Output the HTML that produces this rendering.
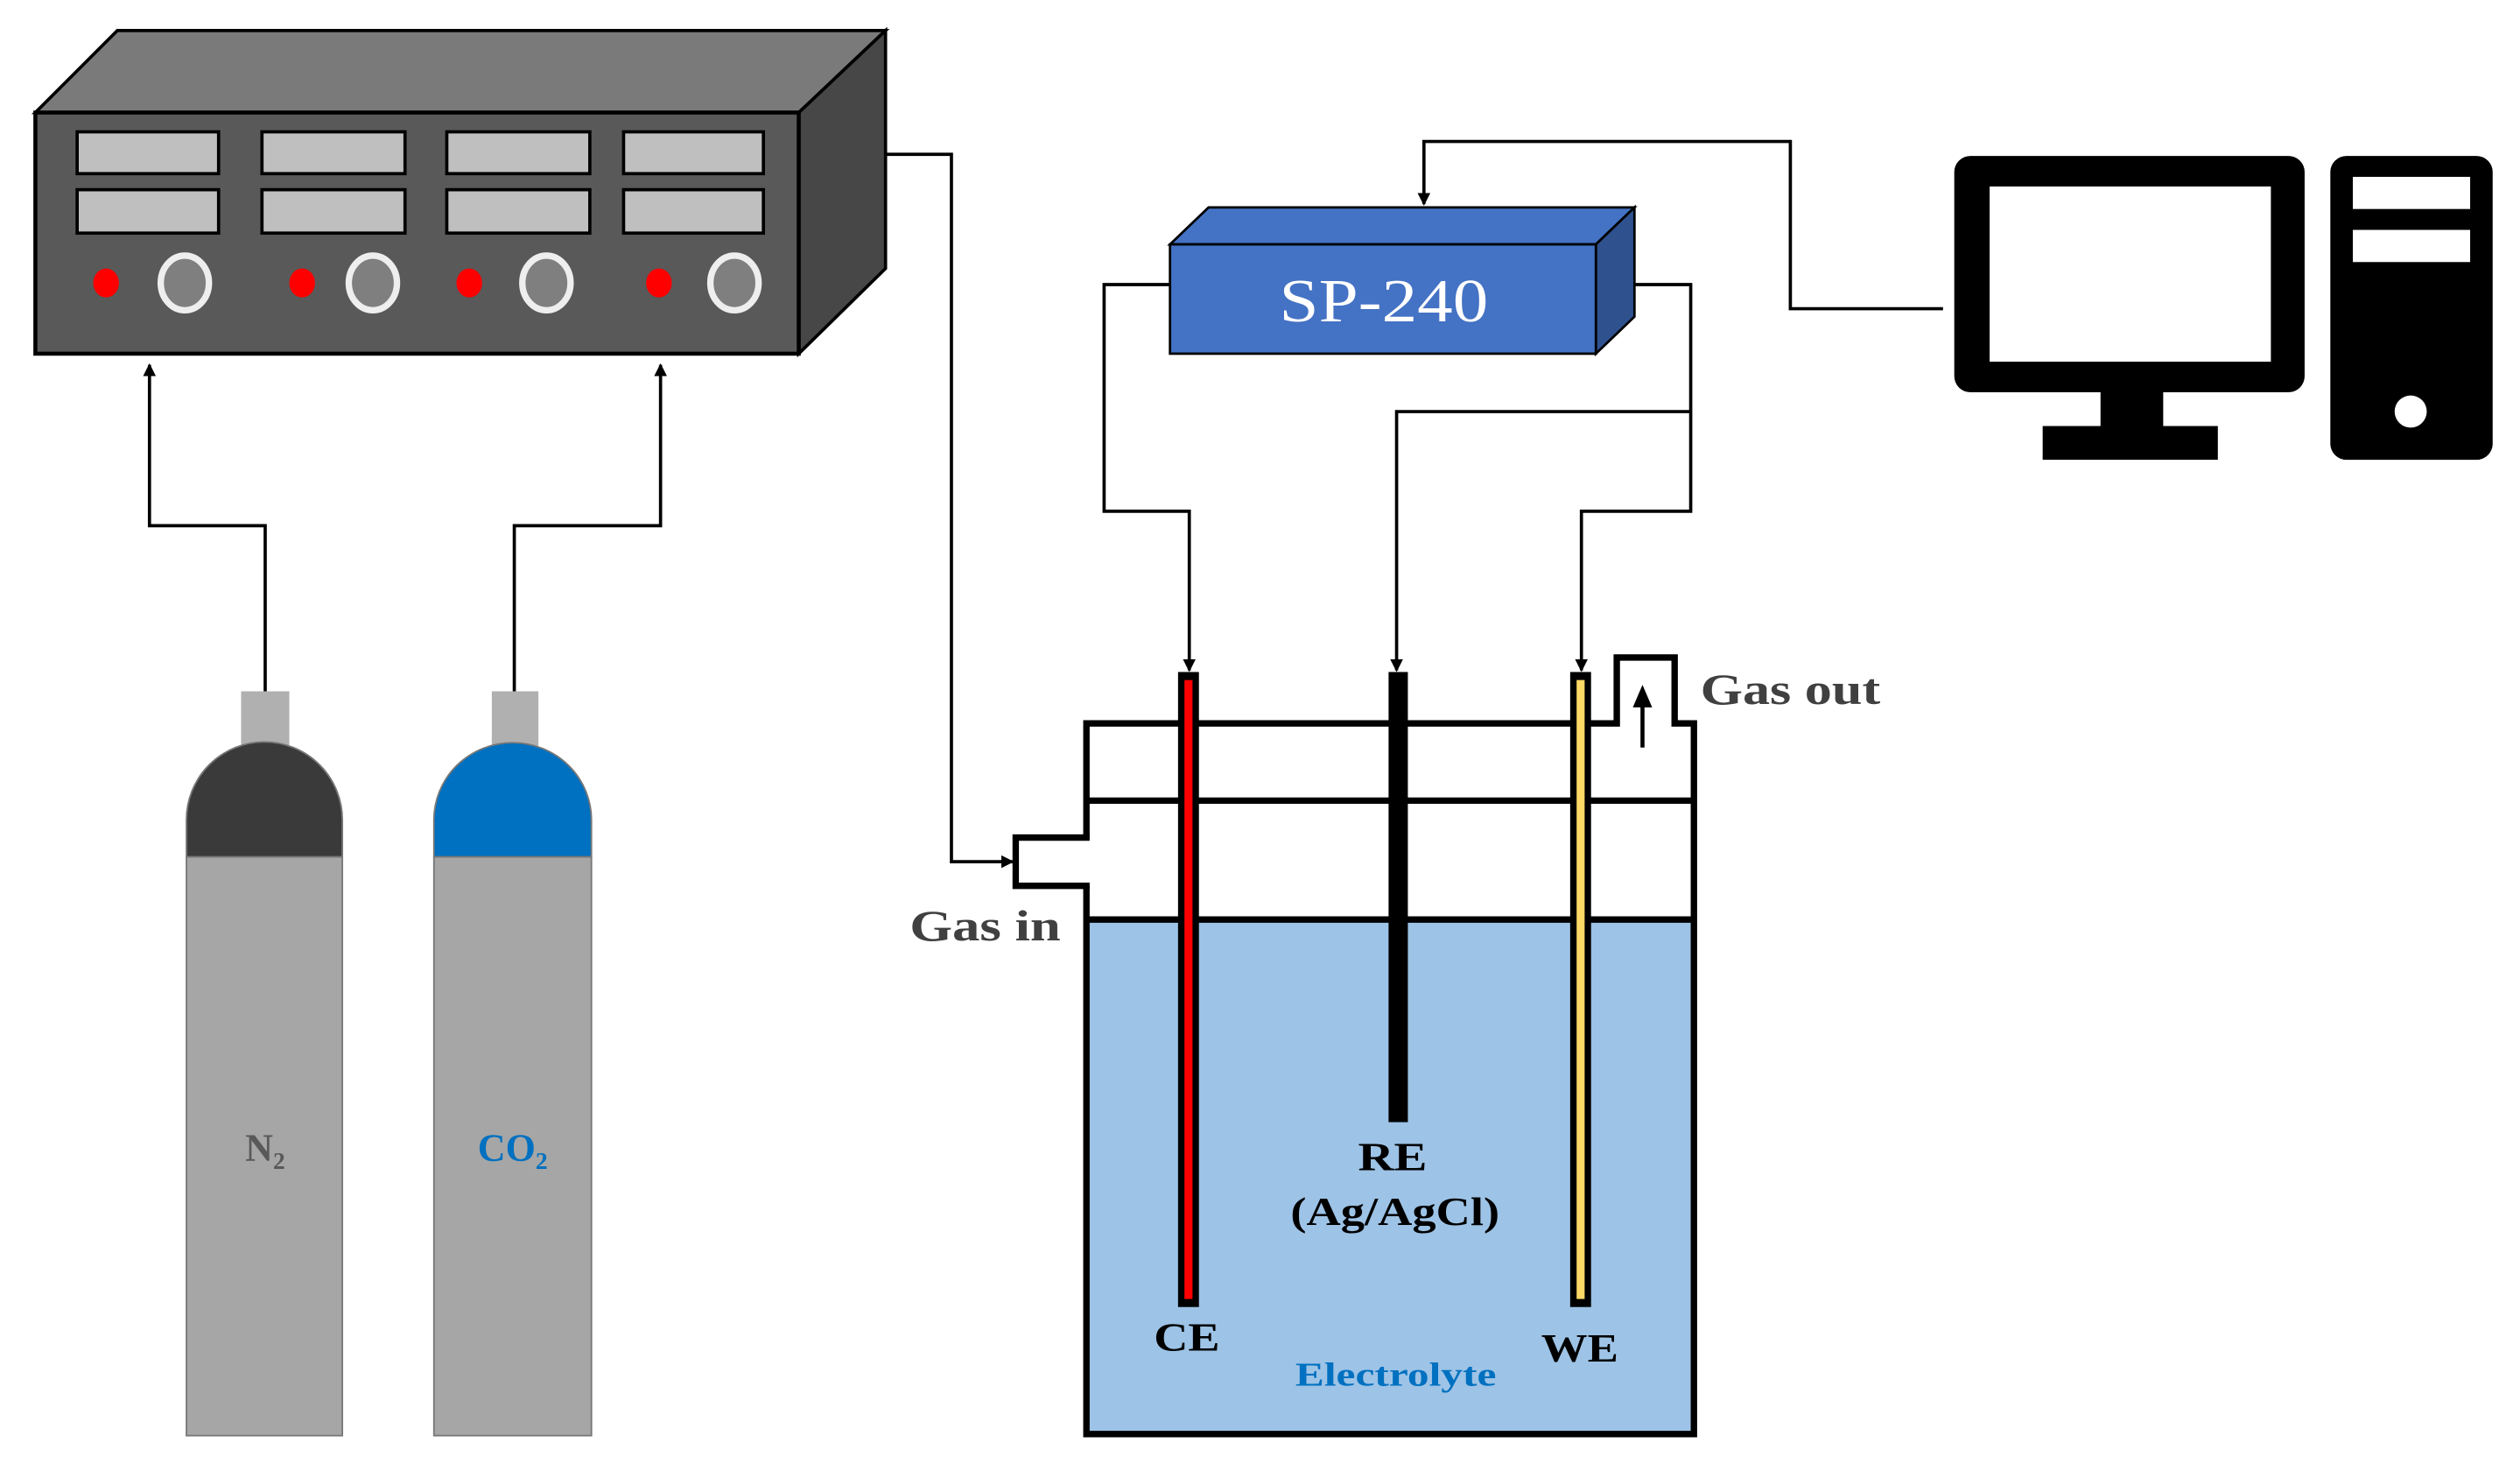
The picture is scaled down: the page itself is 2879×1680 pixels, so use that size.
<!DOCTYPE html>
<html><head><style>html,body{margin:0;padding:0;background:#fff}svg{display:block}</style></head><body>
<svg width="2879" height="1680" viewBox="0 0 1568 915" xmlns="http://www.w3.org/2000/svg" font-family="'Liberation Serif',serif">
<defs><marker id="a" markerWidth="8" markerHeight="8" refX="7" refY="4" orient="auto" markerUnits="userSpaceOnUse"><path d="M0,0L8,4L0,8z" fill="#000"/></marker></defs>
<rect width="1568" height="915" fill="#fff"/>
<polygon points="22,70 73,19 551,19 497,70" fill="#7a7a7a" stroke="#000" stroke-width="2"/>
<polygon points="497,70 551,19 551,167 497,220" fill="#474747" stroke="#000" stroke-width="2"/>
<rect x="22" y="70" width="475" height="150" fill="#595959" stroke="#000" stroke-width="2.5"/>
<g fill="#bfbfbf" stroke="#000" stroke-width="2">
<rect x="48" y="82" width="88" height="26"/><rect x="163" y="82" width="89" height="26"/><rect x="278" y="82" width="89" height="26"/><rect x="388" y="82" width="87" height="26"/>
<rect x="48" y="118" width="88" height="27"/><rect x="163" y="118" width="89" height="27"/><rect x="278" y="118" width="89" height="27"/><rect x="388" y="118" width="87" height="27"/>
</g>
<g fill="#f00"><ellipse cx="66" cy="176" rx="8" ry="9"/><ellipse cx="188" cy="176" rx="8" ry="9"/><ellipse cx="292" cy="176" rx="8" ry="9"/><ellipse cx="410" cy="176" rx="8" ry="9"/></g>
<g fill="#7f7f7f" stroke="#eee" stroke-width="4"><ellipse cx="115" cy="176" rx="15" ry="17"/><ellipse cx="232" cy="176" rx="15" ry="17"/><ellipse cx="340" cy="176" rx="15" ry="17"/><ellipse cx="457" cy="176" rx="15" ry="17"/></g>
<rect x="150" y="430" width="30" height="34" fill="#b0b0b0"/>
<rect x="306" y="430" width="29" height="34" fill="#b0b0b0"/>
<path d="M116,533 V510 A48,48 0 0 1 213,510 V533 Z" fill="#3a3a3a" stroke="#777" stroke-width="1"/>
<rect x="116" y="533" width="97" height="360" fill="#a6a6a6" stroke="#777" stroke-width="1"/>
<path d="M270,533 V510 A49,48 0 0 1 368,510 V533 Z" fill="#0070c0" stroke="#777" stroke-width="1"/>
<rect x="270" y="533" width="98" height="360" fill="#a6a6a6" stroke="#777" stroke-width="1"/>
<text x="165" y="722" font-size="24" font-weight="bold" fill="#595959" text-anchor="middle">N<tspan font-size="15" dy="5">2</tspan></text>
<text x="319" y="722" font-size="24" font-weight="bold" fill="#0070c0" text-anchor="middle">CO<tspan font-size="15" dy="5">2</tspan></text>
<g fill="none" stroke="#000" stroke-width="2">
<path d="M165,430 V327 H93 V227" marker-end="url(#a)"/>
<path d="M320,430 V327 H411 V227" marker-end="url(#a)"/>
<path d="M551,96 H592 V536 H630" marker-end="url(#a)"/>
<path d="M1209,192 H1114 V88 H886 V127" marker-end="url(#a)"/>
<path d="M728,177 H687 V318 H740 V417" marker-end="url(#a)"/>
<path d="M1007,177 H1052 V318 H984 V417" marker-end="url(#a)"/>
<path d="M1052,256 H869 V417" marker-end="url(#a)"/>
</g>
<polygon points="728,152 752,129 1017,129 993,152" fill="#4472c4" stroke="#000" stroke-width="1.5"/>
<polygon points="993,152 1017,129 1017,197 993,220" fill="#2f528f" stroke="#000" stroke-width="1.5"/>
<rect x="728" y="152" width="265" height="68" fill="#4472c4" stroke="#000" stroke-width="1.5"/>
<text x="796" y="200" font-size="38" fill="#fff" textLength="130" lengthAdjust="spacingAndGlyphs">SP-240</text>
<rect x="1216" y="97" width="218" height="147" rx="10" fill="#000"/>
<rect x="1238" y="116" width="175" height="109" fill="#fff"/>
<rect x="1307" y="242" width="39" height="26" fill="#000"/>
<rect x="1271" y="265" width="109" height="21" fill="#000"/>
<rect x="1450" y="97" width="101" height="189" rx="10" fill="#000"/>
<rect x="1464" y="110" width="73" height="20" fill="#fff"/>
<rect x="1464" y="143" width="73" height="20" fill="#fff"/>
<circle cx="1500" cy="256" r="10" fill="#fff"/>
<rect x="676" y="572" width="378" height="320" fill="#9dc3e6"/>
<g fill="none" stroke="#000" stroke-width="4">
<path d="M676,521 V450 H1006 V409 H1042 V450 H1054 V892 H676 V551"/>
<path d="M678,521 H632 V551 H678"/>
<path d="M676,498 H1054"/>
<path d="M676,572 H1054"/>
</g>
<path d="M1022,465 V432" stroke="#000" stroke-width="2.5"/>
<path d="M1016,440 L1022,426 L1028,440 Z" fill="#000"/>
<rect x="733" y="418" width="13" height="395" fill="#000"/>
<rect x="737" y="423" width="5" height="385" fill="#f00"/>
<rect x="864" y="418" width="12" height="280" fill="#000"/>
<rect x="977" y="418" width="13" height="395" fill="#000"/>
<rect x="981" y="423" width="5" height="385" fill="#ffd966"/>
<g font-weight="bold">
<text x="566" y="585" font-size="27" fill="#404040" textLength="94" lengthAdjust="spacingAndGlyphs">Gas in</text>
<text x="1058" y="438" font-size="27" fill="#404040" textLength="112" lengthAdjust="spacingAndGlyphs">Gas out</text>
<text x="718" y="840" font-size="25" textLength="41" lengthAdjust="spacingAndGlyphs">CE</text>
<text x="845" y="728" font-size="25" textLength="43" lengthAdjust="spacingAndGlyphs">RE</text>
<text x="803" y="762" font-size="25" textLength="130" lengthAdjust="spacingAndGlyphs">(Ag/AgCl)</text>
<text x="959" y="847" font-size="25" textLength="48" lengthAdjust="spacingAndGlyphs">WE</text>
<text x="806" y="862" font-size="21" fill="#0070c0" textLength="125" lengthAdjust="spacingAndGlyphs">Electrolyte</text>
</g>
</svg>
</body></html>
